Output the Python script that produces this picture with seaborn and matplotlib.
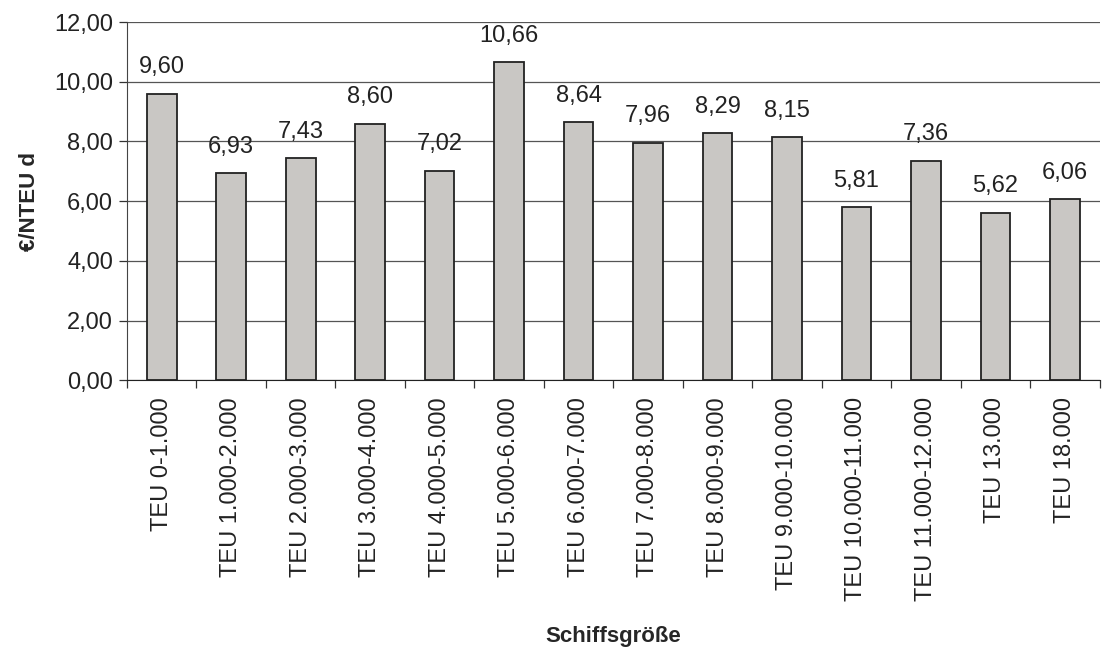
import pandas as pd
import numpy as np
import matplotlib.pyplot as plt
import seaborn as sns
from matplotlib.ticker import FuncFormatter, FixedLocator

# data
categories = ['TEU 0-1.000', 'TEU 1.000-2.000', 'TEU 2.000-3.000', 'TEU 3.000-4.000',
              'TEU 4.000-5.000', 'TEU 5.000-6.000', 'TEU 6.000-7.000', 'TEU 7.000-8.000',
              'TEU 8.000-9.000', 'TEU 9.000-10.000', 'TEU 10.000-11.000',
              'TEU 11.000-12.000', 'TEU 13.000', 'TEU 18.000']
values = [9.60, 6.93, 7.43, 8.60, 7.02, 10.66, 8.64, 7.96, 8.29, 8.15, 5.81, 7.36, 5.62, 6.06]

df = pd.DataFrame({'Schiffsgröße': categories, 'Kosten': values})

sns.set_style('white')
plt.rcParams['font.family'] = ['Liberation Sans', 'DejaVu Sans']
fs = 17

fig = plt.figure(figsize=(11.03, 6.5), dpi=100)
ax = fig.add_axes([0.115, 0.415, 0.882, 0.551])

sns.barplot(data=df, x='Schiffsgröße', y='Kosten', color='#c9c7c4',
            edgecolor='#222222', linewidth=1.3, width=0.43, saturation=1, ax=ax)

# value labels above bars, German decimal comma
for i, v in enumerate(values):
    ax.annotate(f'{v:.2f}'.replace('.', ','), (i, v), xytext=(0, 11),
                textcoords='offset points', ha='center', va='bottom',
                fontsize=fs, color='#222222')

ax.set_ylim(0, 12)
ax.set_xlim(-0.5, len(categories) - 0.5)
ax.set_yticks(np.arange(0, 12.01, 2))
ax.yaxis.set_major_formatter(FuncFormatter(lambda y, _: f'{y:.2f}'.replace('.', ',')))
ax.yaxis.grid(True, color='#555555', linewidth=0.9)
ax.set_axisbelow(True)

ax.set_xticks(range(len(categories)))
ax.set_xticklabels(categories, rotation=90, fontsize=fs, color='#222222')
ax.xaxis.set_minor_locator(FixedLocator(np.arange(-0.5, len(categories), 1)))
ax.tick_params(axis='x', which='major', length=0, pad=12)
ax.tick_params(axis='x', which='minor', length=6, width=0.9, color='#333333', bottom=True)
ax.tick_params(axis='y', length=6, width=0.9, color='#333333', labelsize=fs,
               labelcolor='#222222', left=True, pad=4)

for side in ['top', 'right']:
    ax.spines[side].set_visible(False)
ax.spines['left'].set_color('#444444')
ax.spines['bottom'].set_color('#222222')

ax.set_ylabel('€/NTEU d', fontsize=16, fontweight='bold', labelpad=10)
ax.set_xlabel('Schiffsgröße', fontsize=16, fontweight='bold', labelpad=18)

fig.savefig('out.png', dpi=100)
